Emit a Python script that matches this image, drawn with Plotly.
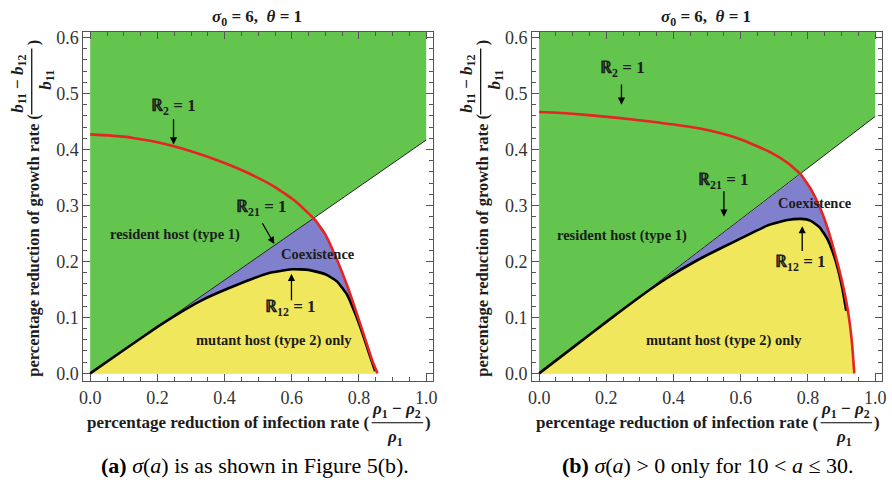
import plotly.graph_objects as go

W, H = 892, 484
SERIF = "Liberation Serif, Times New Roman, Times, serif"

# ---------------- panel (a): sigma(a) as in Figure 5(b) ----------------
a_r2_x = [0.0, 0.1, 0.2, 0.3, 0.4, 0.47, 0.55, 0.61, 0.668, 0.7, 0.74, 0.772, 0.8, 0.822, 0.84, 0.855]
a_r2_y = [0.427, 0.423, 0.413, 0.397, 0.376, 0.358, 0.333, 0.308, 0.275, 0.248, 0.195, 0.145, 0.095, 0.055, 0.022, 0.0]
a_r12_x = [0.0, 0.1, 0.2, 0.26, 0.333, 0.432, 0.53, 0.6, 0.65, 0.7, 0.735, 0.765, 0.79, 0.81, 0.83, 0.848]
a_r12_y = [0.0, 0.0417, 0.083, 0.106, 0.131, 0.157, 0.179, 0.186, 0.185, 0.177, 0.164, 0.140, 0.105, 0.072, 0.036, 0.004]
a_r21_slope = 0.417

# ---------------- panel (b): sigma(a) > 0 only for 10 < a <= 30 ----------------
b_r2_x = [0.0, 0.1, 0.227, 0.33, 0.443, 0.52, 0.601, 0.689, 0.74, 0.778, 0.81, 0.84, 0.866, 0.888, 0.905, 0.92, 0.931, 0.938]
b_r2_y = [0.467, 0.464, 0.457, 0.45, 0.441, 0.432, 0.418, 0.395, 0.376, 0.356, 0.328, 0.29, 0.245, 0.197, 0.155, 0.108, 0.055, 0.0]
b_r12_x = [0.0, 0.1, 0.2, 0.3, 0.38, 0.473, 0.542, 0.62, 0.679, 0.739, 0.78, 0.807, 0.835, 0.858, 0.875, 0.89, 0.903, 0.914]
b_r12_y = [0.0, 0.046, 0.092, 0.137, 0.170, 0.203, 0.224, 0.247, 0.264, 0.274, 0.276, 0.273, 0.261, 0.240, 0.215, 0.185, 0.150, 0.112]
b_r21_slope = 0.459

x_ticks = [0.0, 0.2, 0.4, 0.6, 0.8, 1.0]
y_ticks = [0.0, 0.1, 0.2, 0.3, 0.4, 0.5, 0.6]
x_ticktext = ["0.0", "0.2", "0.4", "0.6", "0.8", "1.0"]
y_ticktext = ["0.0", "0.1", "0.2", "0.3", "0.4", "0.5", "0.6"]
y_top = 0.6106

GREEN = "rgb(99,196,78)"
YELLOW = "rgb(240,231,92)"
BLUE = "rgb(128,128,204)"
RED = "rgb(230,36,36)"
FRAME = "#555555"
INK = "#1c1c1c"


def crossing(xs, ys, slope):
    """Point where the polyline (xs, ys) meets the line y = slope * x."""
    for i in range(len(xs) - 1):
        d0 = ys[i] - slope * xs[i]
        d1 = ys[i + 1] - slope * xs[i + 1]
        if d0 >= 0 and d1 < 0:
            t = d0 / (d0 - d1)
            x = xs[i] + t * (xs[i + 1] - xs[i])
            return x, slope * x, i + 1
    return xs[-1], ys[-1], len(xs)


def regions(r2x, r2y, r12x, r12y, slope, xa, ya):
    traces = []
    # resident host wins: everything above the R21 = 1 line
    traces.append(go.Scatter(x=[0, 1, 1, 0, 0], y=[0, slope, y_top, y_top, 0],
                             fill="toself", fillcolor=GREEN, mode="lines",
                             line=dict(width=0), hoverinfo="skip",
                             xaxis=xa, yaxis=ya))
    # coexistence: below the R21 line, inside the R2 = 1 curve
    xi, yi, k = crossing(r2x, r2y, slope)
    bx = [0, xi] + r2x[k:] + [0]
    by = [0, yi] + r2y[k:] + [0]
    traces.append(go.Scatter(x=bx, y=by, fill="toself", fillcolor=BLUE,
                             mode="lines", line=dict(width=0),
                             hoverinfo="skip", xaxis=xa, yaxis=ya))
    # mutant host only: below the R12 = 1 curve
    yx = list(r12x)
    yy = list(r12y)
    for x, y in zip(r2x, r2y):
        if x > r12x[-1] and y < r12y[-1]:
            yx.append(x)
            yy.append(y)
    yx += [yx[-1], 0]
    yy += [0, 0]
    traces.append(go.Scatter(x=yx, y=yy, fill="toself", fillcolor=YELLOW,
                             mode="lines", line=dict(width=0), hoverinfo="skip",
                             xaxis=xa, yaxis=ya))
    # boundary curves
    traces.append(go.Scatter(x=[0, 1], y=[0, slope], mode="lines",
                             line=dict(color="#222", width=1), hoverinfo="skip",
                             xaxis=xa, yaxis=ya))
    traces.append(go.Scatter(x=r12x, y=r12y, mode="lines",
                             line=dict(color="black", width=2.6, shape="spline", smoothing=0.4),
                             hoverinfo="skip", xaxis=xa, yaxis=ya))
    traces.append(go.Scatter(x=r2x, y=r2y, mode="lines",
                             line=dict(color=RED, width=2.6, shape="spline", smoothing=0.4),
                             hoverinfo="skip", xaxis=xa, yaxis=ya))
    return traces


fig = go.Figure()
for t in regions(a_r2_x, a_r2_y, a_r12_x, a_r12_y, a_r21_slope, "x", "y"):
    fig.add_trace(t)
for t in regions(b_r2_x, b_r2_y, b_r12_x, b_r12_y, b_r21_slope, "x2", "y2"):
    fig.add_trace(t)


def axis(domain, rng, ticks, ticktext, minor, anchor, side):
    return dict(domain=domain, range=rng, anchor=anchor, side=side,
                showgrid=False, zeroline=False, showline=True, linecolor=FRAME,
                linewidth=1, mirror="allticks", ticks="inside", ticklen=7,
                tickwidth=1, tickcolor=FRAME, tickvals=ticks, ticktext=ticktext,
                tickfont=dict(family=SERIF, size=18, color="#333"),
                minor=dict(ticks="inside", ticklen=4, tickcolor=FRAME, tick0=0, dtick=minor),
                fixedrange=True)


xr = [-0.0206, 1.0206]
yr = [-0.0141, y_top]
ydom = [1 - 382 / H, 1 - 28 / H]
fig.update_layout(
    width=W, height=H, autosize=False,
    margin=dict(l=0, r=0, t=0, b=0),
    paper_bgcolor="white", plot_bgcolor="white", showlegend=False,
    font=dict(family=SERIF),
    xaxis=axis([80 / W, 433 / W], xr, x_ticks, x_ticktext, 0.05, "y", "bottom"),
    yaxis=axis(ydom, yr, y_ticks, y_ticktext, 0.02, "x", "left"),
    xaxis2=axis([533 / W, 886 / W], xr, x_ticks, x_ticktext, 0.05, "y2", "bottom"),
    yaxis2=axis(ydom, yr, y_ticks, y_ticktext, 0.02, "x2", "left"),
)


def P(px, py):
    return px / W, 1 - py / H


def text(px, py, s, size, bold=True, angle=0, color=INK, xanchor="center"):
    x, y = P(px, py)
    fig.add_annotation(x=x, y=y, xref="paper", yref="paper", text=(f"<b>{s}</b>" if bold else s),
                       showarrow=False, textangle=angle, xanchor=xanchor, yanchor="middle",
                       font=dict(family=SERIF, size=size, color=color))


def label(xa, ya, x, y, s, size=14.5):
    fig.add_annotation(x=x, y=y, xref=xa, yref=ya, text=f"<b>{s}</b>", showarrow=False,
                       xanchor="center", yanchor="middle",
                       font=dict(family=SERIF, size=size, color=INK))


def arrow(xa, ya, x0, y0, x1, y1):
    fig.add_annotation(x=x1, y=y1, ax=x0, ay=y0, xref=xa, yref=ya, axref=xa, ayref=ya,
                       text="", showarrow=True, arrowhead=2, arrowsize=1.1,
                       arrowwidth=1.3, arrowcolor="black", standoff=0, startstandoff=0)


R2 = "\u211d<sub>2</sub> = 1"
R21 = "\u211d<sub>21</sub> = 1"
R12 = "\u211d<sub>12</sub> = 1"

# panel (a) labels
label("x", "y", 0.247, 0.476, R2, 17)
arrow("x", "y", 0.248, 0.457, 0.248, 0.409)
label("x", "y", 0.51, 0.295, R21, 17)
arrow("x", "y", 0.510, 0.271, 0.548, 0.231)
label("x", "y", 0.251, 0.249, "resident host (type 1)")
label("x", "y", 0.678, 0.213, "Coexistence")
arrow("x", "y", 0.599, 0.128, 0.599, 0.178)
label("x", "y", 0.596, 0.116, R12, 17)
label("x", "y", 0.546, 0.058, "mutant host (type 2) only")

# panel (b) labels
label("x2", "y2", 0.248, 0.543, R2, 17)
arrow("x2", "y2", 0.245, 0.519, 0.245, 0.48)
label("x2", "y2", 0.55, 0.344, R21, 17)
arrow("x2", "y2", 0.55, 0.328, 0.55, 0.28)
label("x2", "y2", 0.248, 0.247, "resident host (type 1)")
label("x2", "y2", 0.821, 0.304, "Coexistence")
arrow("x2", "y2", 0.783, 0.216, 0.783, 0.263)
label("x2", "y2", 0.777, 0.198, R12, 17)
label("x2", "y2", 0.55, 0.058, "mutant host (type 2) only")

# titles, axis titles (with stacked fractions) and captions, per panel
for dx, tag, caption in [
    (0, "(a)", "<i>\u03c3</i>(<i>a</i>) is as shown in Figure 5(b)."),
    (453, "(b)", "<i>\u03c3</i>(<i>a</i>) &gt; 0 only for 10 &lt; <i>a</i> \u2264 30."),
]:
    text(255 + dx, 14, "<i>\u03c3</i><sub>0</sub> = 6,  <i>\u03b8</i> = 1", 17)

    # y axis title
    text(30 + dx, 244, "percentage reduction of growth rate (", 16.5, angle=-90)
    text(15 + dx, 81, "<i>b</i><sub>11</sub> \u2212 <i>b</i><sub>12</sub>", 17, angle=-90)
    text(43 + dx, 77, "<i>b</i><sub>11</sub>", 17, angle=-90)
    text(30 + dx, 39, ")", 16.5, angle=-90)
    x0, y0 = P(28 + dx, 112)
    x1, y1 = P(28 + dx, 45)
    fig.add_shape(type="line", xref="paper", yref="paper", x0=x0, y0=y0, x1=x1, y1=y1,
                  line=dict(color="black", width=1.2))

    # x axis title
    text(226 + dx, 424, "percentage reduction of infection rate (", 17)
    text(396 + dx, 411, "<i>\u03c1</i><sub>1</sub> \u2212 <i>\u03c1</i><sub>2</sub>", 17)
    text(395 + dx, 439, "<i>\u03c1</i><sub>1</sub>", 17)
    text(428 + dx, 424, ")", 17)
    x0, y0 = P(371 + dx, 424)
    x1, y1 = P(423 + dx, 424)
    fig.add_shape(type="line", xref="paper", yref="paper", x0=x0, y0=y0, x1=x1, y1=y1,
                  line=dict(color="black", width=1.2))

    # caption
    cx = 253 if dx == 0 else 710
    text(cx, 467, f"<b>{tag}</b> {caption}", 22, bold=False, color="black")

fig.write_html("out.html")
